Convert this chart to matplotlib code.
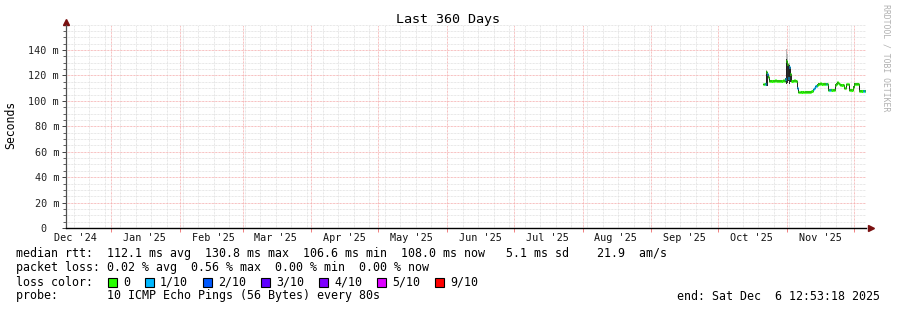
import numpy as np
import pandas as pd
import matplotlib
matplotlib.use('Agg')
import matplotlib.pyplot as plt
import matplotlib.dates as mdates
from matplotlib.ticker import MultipleLocator, FixedLocator, FuncFormatter

# --- data (12 hour steps starting Oct 21 2025) ---
t_start = '2025-10-21 00:00'
step_hours = 12
median_ms = [113.0, 113.0, 113.5, 122.5, 121.0, 119.0,
             116.0, 116.0, 115.8, 116.0, 116.0, 116.2, 116.0, 116.0, 115.8, 116.0, 116.0, 116.0, 116.2, 116.0,
             117.0, 131.0, 129.0, 118.0, 126.5, 121.0,
             116.0, 116.0, 116.2, 116.0, 116.0,
             110.0,
             107.0, 106.8, 106.6, 107.0, 107.0, 106.8, 107.0, 107.2, 107.0, 107.0, 107.3, 107.0, 107.5,
             109.0, 110.0, 111.5, 112.0, 112.5,
             113.5, 113.5, 113.8, 113.5, 113.5, 113.2, 113.5, 113.5, 113.5,
             108.6, 108.6, 108.6, 108.8, 108.6, 108.6,
             112.5, 113.5, 114.5, 114.0, 113.5,
             112.5, 112.5, 112.5,
             110.0, 110.0,
             113.0, 113.0, 113.0,
             108.6, 108.6, 108.6,
             111.0,
             113.3, 113.3, 113.5, 113.3, 113.3,
             108.0, 108.0, 108.0, 108.0, 108.0, 108.0]
loss_tenths = [0, 0, 1, 0, 1, 0,
               0, 0, 0, 0, 0, 0, 0, 0, 0, 0, 0, 0, 0, 0,
               1, 0, 0, 1, 1, 0,
               0, 0, 0, 0, 0,
               1,
               0, 0, 0, 0, 0, 0, 0, 0, 0, 0, 0, 0, 0,
               1, 1, 1, 1, 0,
               0, 0, 0, 0, 0, 0, 0, 1, 0,
               0, 1, 1, 0, 0, 0,
               0, 0, 0, 0, 0,
               0, 0, 0,
               0, 0,
               0, 0, 0,
               0, 0, 0,
               0,
               0, 0, 0, 0, 0,
               0, 0, 0, 1, 1, 0]
# smoke spread around the median (ms): dark band up/down, light band to max
smoke_up = [0.5, 0.5, 0.5, 1.0, 1.5, 0.5] + [0.5] * 14 + [1.0, 2.0, 2.0, 1.0, 1.5, 4.0] + [0.5] * 67
smoke_down = [0.5, 0.5, 0.5, 11.0, 9.0, 0.5] + [0.5] * 14 + [2.0, 18.0, 15.0, 2.0, 13.5, 6.0] + [0.5] * 67
smoke_max = [0.5, 0.5, 0.5, 1.5, 1.5, 0.5] + [0.5] * 14 + [1.0, 10.0, 8.0, 1.0, 3.0, 4.0] + [0.5] * 67

loss_levels = ['0', '1/10', '2/10', '3/10', '4/10', '5/10', '9/10']
loss_colors = ['#26ff00', '#00b8ff', '#0059ff', '#5e00ff', '#7e00ff', '#dd00ff', '#ff0000']
loss_index = {0: 0, 1: 1, 2: 2, 3: 3, 4: 4, 5: 5, 9: 6}

month_labels = ["Dec '24", "Jan '25", "Feb '25", "Mar '25", "Apr '25", "May '25",
                "Jun '25", "Jul '25", "Aug '25", "Sep '25", "Oct '25", "Nov '25"]
y_ticks = [0, 20, 40, 60, 80, 100, 120, 140]

end_time = pd.Timestamp('2025-12-06 12:53:18')
start_time = end_time - pd.Timedelta(days=360)

legend_lines = [
    "median rtt:  112.1 ms avg  130.8 ms max  106.6 ms min  108.0 ms now   5.1 ms sd    21.9  am/s",
    "packet loss: 0.02 % avg  0.56 % max  0.00 % min  0.00 % now",
]
probe_text = "probe:       10 ICMP Echo Pings (56 Bytes) every 80s"
end_text = "end: Sat Dec  6 12:53:18 2025"

MONO = 'DejaVu Sans Mono'
W, H = 897, 310

fig = plt.figure(figsize=(W / 100, H / 100), dpi=100)
ax = fig.add_axes([66 / W, 1 - 228 / H, 800 / W, (228 - 24.6) / H])

times = pd.date_range(t_start, periods=len(median_ms), freq='%dh' % step_hours)
t0 = mdates.date2num(times.to_pydatetime())
t1 = t0 + step_hours / 24.0
med = np.array(median_ms)

# smoke
edges = np.append(t0, t1[-1])
ax.stairs(med + np.array(smoke_max), edges, baseline=med, fill=True, color='#b8b8b8', lw=0, zorder=2)
ax.stairs(med + np.array(smoke_up), edges, baseline=med - np.array(smoke_down), fill=True,
          color='#2a2a2a', lw=0, zorder=3)

# black step connection, then coloured median
ax.stairs(med, edges, baseline=None, color='#202020', lw=0.7, zorder=4)
cols = [loss_colors[loss_index[l]] for l in loss_tenths]
ax.hlines(med, t0, t1, colors=cols, lw=2.2, zorder=5)

ax.set_xlim(mdates.date2num(start_time.to_pydatetime()), mdates.date2num(end_time.to_pydatetime()))
ax.set_ylim(0, 160)

# grid
dot = (0, (0.72, 0.72))
ax.xaxis.set_major_locator(mdates.MonthLocator())
ax.xaxis.set_minor_locator(mdates.WeekdayLocator(byweekday=mdates.SU))
ax.yaxis.set_major_locator(FixedLocator(y_ticks))
ax.yaxis.set_minor_locator(MultipleLocator(5))
ax.grid(which='minor', color='#e0e0e0', lw=0.72, ls=dot, zorder=0)
ax.grid(which='major', color='#f5abab', lw=0.72, ls=dot, zorder=1)
ax.set_axisbelow(True)

ax.xaxis.set_major_formatter(FuncFormatter(lambda v, p: ''))
ax.yaxis.set_major_formatter(FuncFormatter(lambda v, p: '0\u00a0\u00a0' if v == 0 else '%d m' % v))
ax.tick_params(axis='y', which='major', length=3, width=0.7, color='#404040', pad=2,
               labelsize=7.3, labelcolor='#222222')
ax.tick_params(axis='y', which='minor', length=2, width=0.7, color='#606060')
ax.tick_params(axis='x', which='major', length=3, width=0.7, color='#f08080')
ax.tick_params(axis='x', which='minor', length=0)
for lbl in ax.get_yticklabels():
    lbl.set_family(MONO)

# month labels centred mid month
label_dates = pd.date_range('2024-12-01', periods=len(month_labels), freq='MS') + pd.Timedelta(days=15)
for d, txt in zip(label_dates, month_labels):
    ax.text(mdates.date2num(d.to_pydatetime()), -0.05, txt, transform=ax.get_xaxis_transform(),
            ha='center', va='center', family=MONO, fontsize=7.3, color='#111111')

for s in ['top', 'right']:
    ax.spines[s].set_visible(False)
ax.spines['left'].set_color('#505050')
ax.spines['left'].set_linewidth(0.9)
ax.spines['bottom'].set_color('#000000')
ax.spines['bottom'].set_linewidth(1.0)

# axis arrows
ax.plot([1.006], [0], marker='>', ms=4, color='#7a1010', transform=ax.transAxes, clip_on=False)
ax.plot([0], [1.014], marker='^', ms=4, color='#7a1010', transform=ax.transAxes, clip_on=False)

# texts
fig.text(448 / W, 1 - 19 / H, 'Last 360 Days', ha='center', va='center', family=MONO, fontsize=9.6)
fig.text(11 / W, 1 - 125 / H, 'Seconds', rotation=90, ha='center', va='center', family=MONO, fontsize=8.3)
fig.text(886 / W, 1 - 4 / H, 'RRDTOOL / TOBI OETIKER', rotation=270, ha='center', va='top',
         family=MONO, fontsize=5.9, color='#b0b0b0')

fs = 8.35
cw = 7.0  # character width in px
fig.text(16 / W, 1 - 254 / H, legend_lines[0], ha='left', va='center', family=MONO, fontsize=fs)
fig.text(16 / W, 1 - 268 / H, legend_lines[1], ha='left', va='center', family=MONO, fontsize=fs)
fig.text(16 / W, 1 - 282 / H, 'loss color:', ha='left', va='center', family=MONO, fontsize=fs)
xcur = 108
for lab, c in zip(loss_levels, loss_colors):
    fig.patches.append(plt.Rectangle((xcur / W, 1 - 286.5 / H), 9 / W, 9 / H, transform=fig.transFigure,
                                     facecolor=c, edgecolor='black', lw=0.8))
    fig.text((xcur + 15) / W, 1 - 282 / H, lab, ha='left', va='center', family=MONO, fontsize=fs)
    xcur = xcur + 15 + len(lab) * cw + 15
fig.text(16 / W, 1 - 296 / H, probe_text, ha='left', va='center', family=MONO, fontsize=fs)
fig.text(880 / W, 1 - 296 / H, end_text, ha='right', va='center', family=MONO, fontsize=fs)

fig.savefig('out.png', dpi=100)
